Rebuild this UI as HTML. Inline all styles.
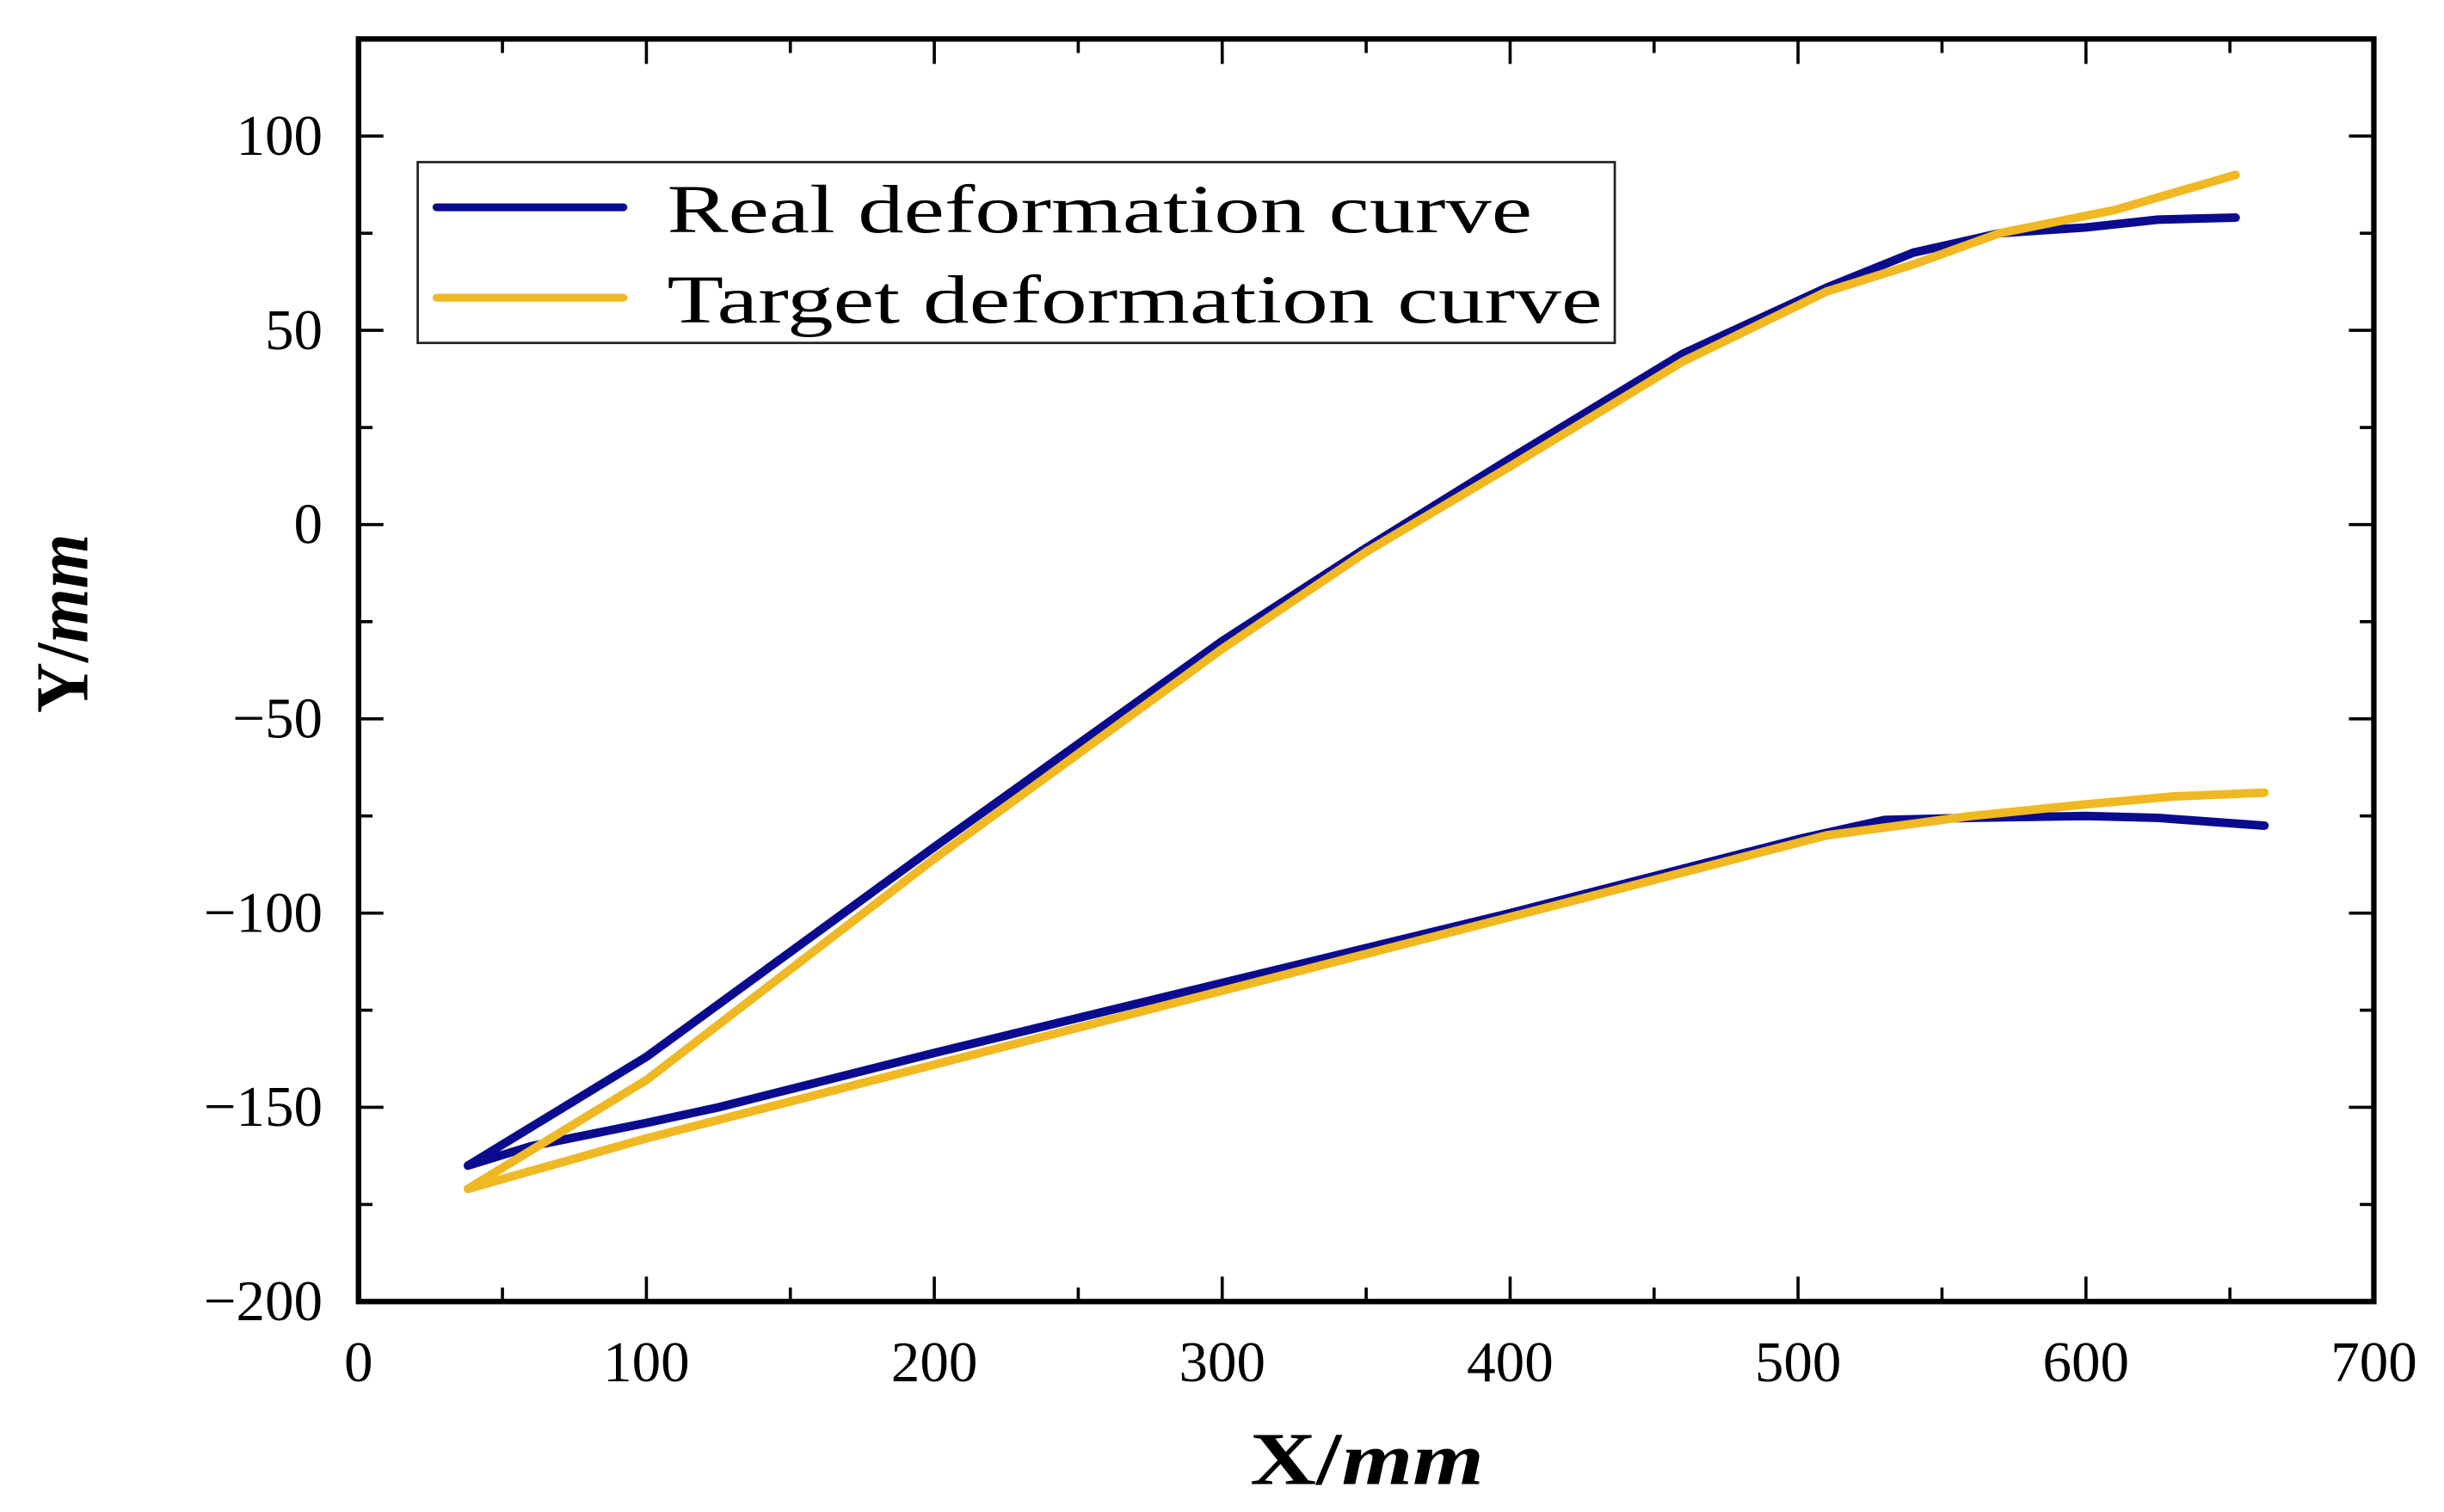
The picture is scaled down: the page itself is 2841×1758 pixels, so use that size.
<!DOCTYPE html>
<html><head><meta charset="utf-8">
<style>html,body{margin:0;padding:0;background:#fff;}svg{display:block;}</style>
</head><body>
<svg id="chart" width="2841" height="1758" viewBox="0 0 1568 970" preserveAspectRatio="none" xmlns="http://www.w3.org/2000/svg" font-family="'Liberation Serif', serif">
<g id="axes"></g>
<g id="series"></g>
<g id="legend">
  <rect x="268" y="104" width="768" height="116" fill="#fff" stroke="#222" stroke-width="1.5"/>
  <line x1="280" y1="133" x2="400" y2="133" stroke="#0b0b8f" stroke-width="5" stroke-linecap="round"/>
  <text x="428" y="149" font-size="44" textLength="555" lengthAdjust="spacingAndGlyphs">Real deformation curve</text>
  <line x1="280" y1="191" x2="400" y2="191" stroke="#f0b823" stroke-width="5" stroke-linecap="round"/>
  <text x="428" y="207" font-size="44" textLength="600" lengthAdjust="spacingAndGlyphs">Target deformation curve</text>
</g>
<text x="877" y="952" font-size="48" font-weight="bold" text-anchor="middle" textLength="150" lengthAdjust="spacingAndGlyphs">X/<tspan font-style="italic">mm</tspan></text>
<text transform="translate(56,400) rotate(-90)" font-size="48" font-weight="bold" text-anchor="middle" textLength="115" lengthAdjust="spacingAndGlyphs">Y/<tspan font-style="italic">mm</tspan></text>
<script>
const xTicks=[0,100,200,300,400,500,600,700];
const yTicks=[100,50,0,-50,-100,-150,-200];
const realX=[662,625,600,560,530,500,400,300,200,125,100,60,38,100,200,300,350,400,460,510,540,570,600,625,652];
const realY=[-77.5,-75.5,-75,-75.5,-76,-81,-100,-118,-136,-150,-154,-160,-165,-137,-83,-30,-6,17,44,61,70,75,76.5,78.5,79];
const targetX=[662,630,600,560,510,400,300,200,100,38,100,200,300,350,400,460,510,540,570,610,652];
const targetY=[-69,-70,-72,-75,-80,-101,-120,-139,-158,-171,-143,-86,-32,-7,15,42,60,67,75,81,90];
const L=230,R=1523,T=25,B=835,XMIN=0,XMAX=700,YMIN=-200,YMAX=125;
const sx=v=>L+(v-XMIN)/(XMAX-XMIN)*(R-L);
const sy=v=>B-(v-YMIN)/(YMAX-YMIN)*(B-T);
const NS='http://www.w3.org/2000/svg';
const ax=document.getElementById('axes');
function mk(tag,attrs,parent){const e=document.createElementNS(NS,tag);for(const k in attrs)e.setAttribute(k,attrs[k]);parent.appendChild(e);return e;}
const frame=mk('rect',{x:L,y:T,width:R-L,height:B-T,fill:'none',stroke:'#000','stroke-width':3.5},ax);


for(let v=XMIN;v<=XMAX;v+=50){const major=v%100===0;const len=major?16:9;
 const t1=mk('line',{x1:sx(v),x2:sx(v),y1:B,y2:B-len,stroke:'#000','stroke-width':2},ax);
 
 
 const t2=mk('line',{x1:sx(v),x2:sx(v),y1:T,y2:T+len,stroke:'#000','stroke-width':2},ax);
 
 }
for(let v=YMIN;v<=YMAX;v+=25){const major=v%50===0;const len=major?16:9;
 const t1=mk('line',{x1:L,x2:L+len,y1:sy(v),y2:sy(v),stroke:'#000','stroke-width':2},ax);
 
 
 const t2=mk('line',{x1:R,x2:R-len,y1:sy(v),y2:sy(v),stroke:'#000','stroke-width':2},ax);
 
 }
xTicks.forEach(v=>{const t=mk('text',{x:sx(v),y:886,'font-size':37,'text-anchor':'middle'},ax);t.textContent=v;
 
 });
yTicks.forEach(v=>{const t=mk('text',{x:207,y:sy(v)+12,'font-size':37,'text-anchor':'end'},ax);t.textContent=v<0?'\u2212'+(-v):v;
 
 });
const sg=document.getElementById('series');
function line(xs,ys,color,name){const d=xs.map((x,i)=>(i?'L':'M')+sx(x).toFixed(1)+','+sy(ys[i]).toFixed(1)).join(' ');
 const p=mk('path',{d:d,fill:'none',stroke:color,'stroke-width':5.5,'stroke-linejoin':'round','stroke-linecap':'round'},sg);
 
 }
line(realX,realY,'#0b0b8f','real-deformation-curve');
line(targetX,targetY,'#f0b823','target-deformation-curve');
</script>
</svg>
</body></html>
